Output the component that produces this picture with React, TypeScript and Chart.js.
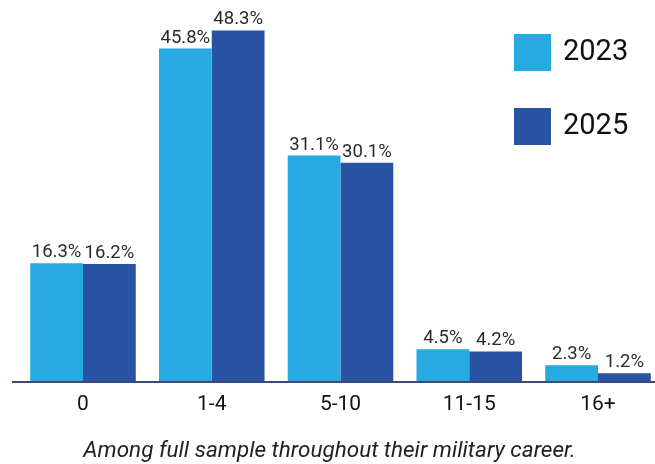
import React, { useEffect, useRef } from "react";
import { Chart, registerables } from "chart.js";

Chart.register(...registerables);

const categories = ["0", "1-4", "5-10", "11-15", "16+"];
const seriesNames = ["2023", "2025"];
const values2023 = [16.3, 45.8, 31.1, 4.5, 2.3];
const values2025 = [16.2, 48.3, 30.1, 4.2, 1.2];
const caption = "Among full sample throughout their military career.";

const LIGHT = "#27a9e1";
const DARK = "#2753a2";
const FONT = "Roboto, 'Liberation Sans', Arial, sans-serif";

// Value labels above each bar
const barLabels = {
  id: "barLabels",
  afterDatasetsDraw(chart: any) {
    const ctx = chart.ctx;
    ctx.save();
    ctx.font = `18.5px ${FONT}`;
    ctx.fillStyle = "#2a2a2a";
    ctx.textAlign = "center";
    ctx.textBaseline = "alphabetic";
    chart.data.datasets.forEach((ds: any, di: number) => {
      const meta = chart.getDatasetMeta(di);
      meta.data.forEach((el: any, i: number) => {
        ctx.fillText(`${ds.data[i].toFixed(1)}%`, el.x, el.y - 6);
      });
    });
    ctx.restore();
  },
};

// Baseline rule under the bars, running the full width
const baseline = {
  id: "baseline",
  afterDatasetsDraw(chart: any) {
    const ctx = chart.ctx;
    const y = chart.chartArea.bottom;
    ctx.save();
    ctx.strokeStyle = "#3b4a7d";
    ctx.lineWidth = 2;
    ctx.beginPath();
    ctx.moveTo(12, y);
    ctx.lineTo(chart.width, y);
    ctx.stroke();
    ctx.restore();
  },
};

// Square-swatch legend in the upper right
const squareLegend = {
  id: "squareLegend",
  afterDraw(chart: any) {
    const ctx = chart.ctx;
    ctx.save();
    ctx.font = `29px ${FONT}`;
    ctx.textAlign = "left";
    ctx.textBaseline = "middle";
    chart.data.datasets.forEach((ds: any, i: number) => {
      const top = 34 + i * 74;
      ctx.fillStyle = ds.backgroundColor;
      ctx.fillRect(514, top, 37, 37);
      ctx.fillStyle = "#111";
      ctx.fillText(ds.label, 563, top + 19);
    });
    ctx.restore();
  },
};

// Italic caption centred on the page below the axis labels
const captionLine = {
  id: "captionLine",
  afterDraw(chart: any) {
    const ctx = chart.ctx;
    ctx.save();
    ctx.font = `italic 22.5px ${FONT}`;
    ctx.fillStyle = "#222";
    ctx.textAlign = "center";
    ctx.textBaseline = "alphabetic";
    ctx.fillText(caption, chart.width / 2 + 2, chart.height - 7);
    ctx.restore();
  },
};

export default function App() {
  const canvasRef = useRef<HTMLCanvasElement>(null);

  useEffect(() => {
    const canvas = canvasRef.current;
    if (!canvas) return;
    const chart = new Chart(canvas, {
      type: "bar",
      data: {
        labels: categories,
        datasets: [
          { label: seriesNames[0], data: values2023, backgroundColor: LIGHT, clip: false as any },
          { label: seriesNames[1], data: values2025, backgroundColor: DARK, clip: false as any },
        ],
      },
      options: {
        responsive: false,
        animation: false,
        devicePixelRatio: 1,
        layout: { padding: { left: 83, right: 57, top: 18, bottom: 0 } },
        datasets: {
          bar: { categoryPercentage: 0.82, barPercentage: 1 },
        },
        scales: {
          x: {
            offset: false,
            grid: { display: false, drawTicks: false },
            border: { display: false },
            ticks: {
              color: "#111",
              font: { family: FONT, size: 21 },
              padding: 10,
            },
            afterFit: (scale: any) => {
              scale.height = 82;
            },
          },
          y: {
            display: false,
            min: 0,
            max: 50,
          },
        },
        plugins: {
          legend: { display: false },
          tooltip: { enabled: false },
          title: { display: false },
        },
      },
      plugins: [baseline, barLabels, squareLegend, captionLine],
    });
    return () => chart.destroy();
  }, []);

  return (
    <div style={{ position: "fixed", left: 0, top: 0, width: 655, height: 464, background: "#fff" }}>
      <canvas ref={canvasRef} width={655} height={464} style={{ display: "block" }} />
    </div>
  );
}
